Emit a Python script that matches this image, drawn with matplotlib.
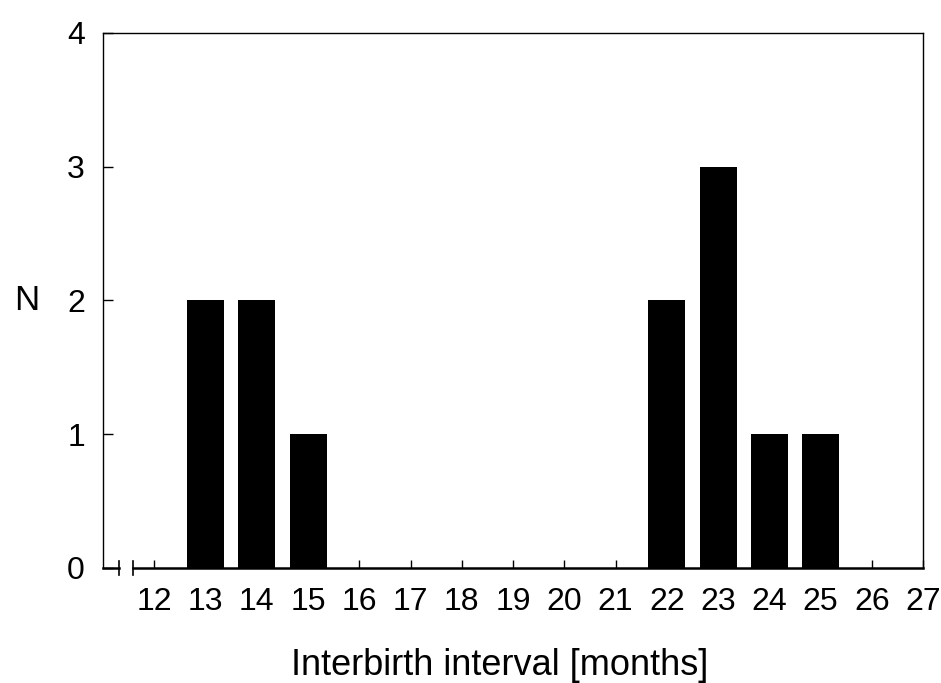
import numpy as np
import matplotlib
matplotlib.use("Agg")
import matplotlib.pyplot as plt

plt.rcParams['font.family'] = ['Liberation Sans', 'DejaVu Sans']

months = [12, 13, 14, 15, 16, 17, 18, 19, 20, 21, 22, 23, 24, 25, 26, 27]
counts = [0, 2, 2, 1, 0, 0, 0, 0, 0, 0, 2, 3, 1, 1, 0, 0]
yticks = [0, 1, 2, 3, 4]

fig = plt.figure(figsize=(9.41, 6.83), dpi=100)
ax = fig.add_axes([0.1095, 0.1684, 0.8715, 0.7833])

ax.bar(months, counts, width=0.72, color='black', zorder=2)

ax.set_xlim(11, 27)
ax.set_ylim(0, 4)
ax.set_xticks(months)
ax.set_yticks(yticks)
ax.tick_params(axis='both', direction='in', labelsize=23, width=1)
ax.tick_params(axis='x', length=6, pad=14)
ax.tick_params(axis='y', length=7, pad=13)

for side in ['top', 'right', 'left']:
    ax.spines[side].set_linewidth(1.0)

# bottom axis drawn by hand with a break near the origin
ax.spines['bottom'].set_visible(False)
brk_lo, brk_hi = 11.31, 11.58
ax.plot([11, brk_lo], [0, 0], color='black', lw=1.8, clip_on=False, zorder=3)
ax.plot([brk_hi, 27], [0, 0], color='black', lw=1.8, clip_on=False, zorder=3)
for xb in (brk_lo, brk_hi):
    ax.plot([xb, xb], [-0.055, 0.055], color='black', lw=1.2, clip_on=False, zorder=3)

ax.set_xlabel('Interbirth interval [months]', fontsize=26, va='center')
ax.xaxis.set_label_coords(0.484, -0.183)
ax.set_ylabel('N', fontsize=25, rotation=0, va='center', ha='center')
ax.yaxis.set_label_coords(-0.093, 0.5)

fig.savefig('out.png', dpi=100)
